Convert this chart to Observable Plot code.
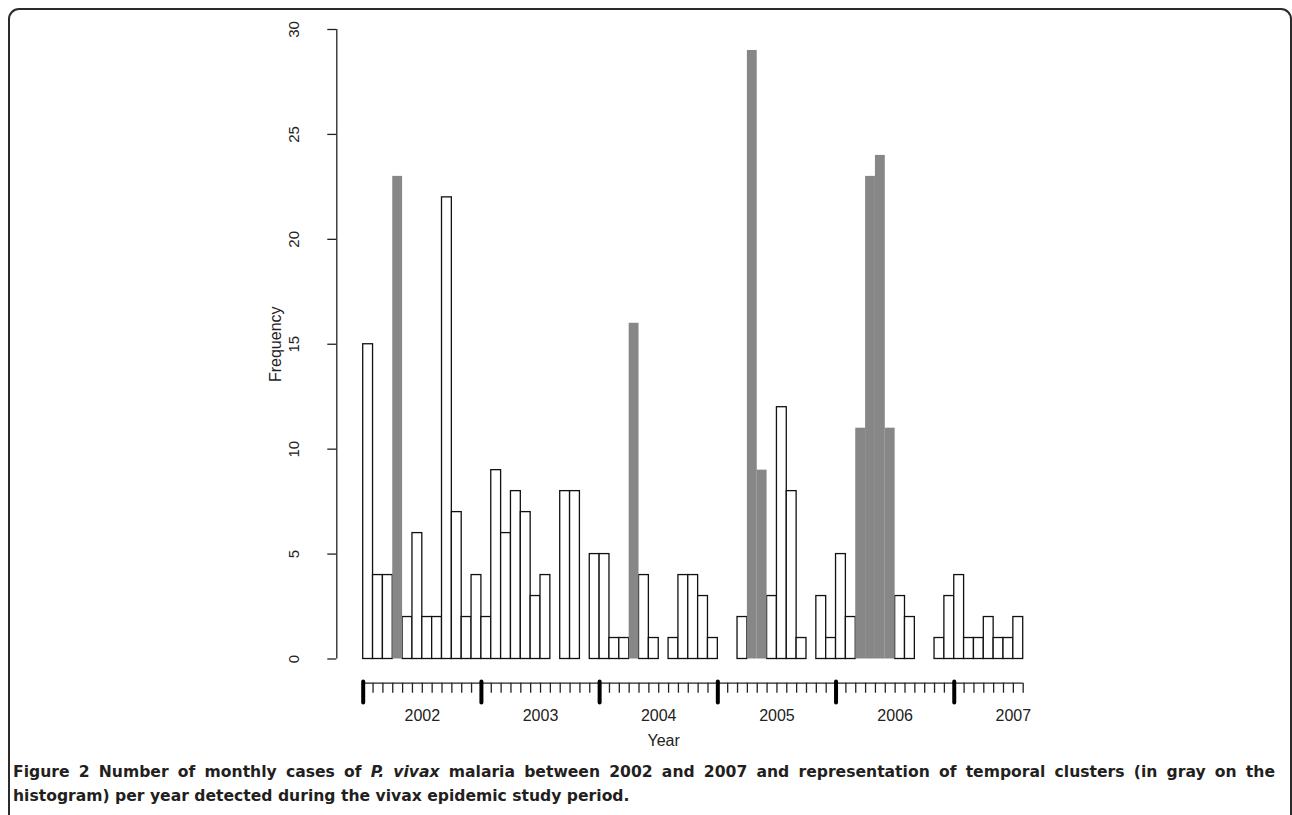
<!DOCTYPE html>
<html>
<head>
<meta charset="utf-8">
<script src="https://cdn.jsdelivr.net/npm/d3@7"></script>
<script src="https://cdn.jsdelivr.net/npm/@observablehq/plot@0.6"></script>
<style>
  html, body { margin: 0; padding: 0; background: #fff; }
  body { width: 1292px; height: 815px; position: relative; overflow: hidden; }
  #frame { position: absolute; left: 8px; top: 8px; width: 1284px; height: 840px;
           border: 2px solid #2b2b2b; border-radius: 11px; box-sizing: border-box; }
  #chart { position: absolute; left: 0; top: 0; }
  #caption { position: absolute; left: 13px; top: 760px; width: 1262px;
             font-family: "DejaVu Sans", sans-serif; font-weight: 700; font-size: 15.6px;
             line-height: 24px; color: #231f20; white-space: nowrap; }
  #caption .l1 { text-align: justify; text-align-last: justify; }
  #caption .l2 { text-align: left; }
</style>
</head>
<body>
<div id="frame"></div>
<div id="chart"></div>
<div id="caption">
  <div class="l1">Figure 2 Number of monthly cases of <i>P. vivax</i> malaria between 2002 and 2007 and representation of temporal clusters (in gray on the</div>
  <div class="l2">histogram) per year detected during the vivax epidemic study period.</div>
</div>
<script>
// Monthly case counts (67 months)
const counts = [15, 4, 4, 23, 2, 6, 2, 2, 22, 7, 2, 4,
                2, 9, 6, 8, 7, 3, 4, 0, 8, 8, 0, 5,
                5, 1, 1, 16, 4, 1, 0, 1, 4, 4, 3, 1,
                0, 0, 2, 29, 9, 3, 12, 8, 1, 0, 3, 1,
                5, 2, 11, 23, 24, 11, 3, 2, 0, 0, 1, 3,
                4, 1, 1, 2, 1, 1, 2];
// Months belonging to detected temporal clusters (drawn in gray)
const clusterMonths = [3, 27, 39, 40, 50, 51, 52, 53];
const yearLabels = ["2002", "2003", "2004", "2005", "2006", "2007"];
const yTicks = [0, 5, 10, 15, 20, 25, 30];

const n = counts.length;
const data = counts.map((v, i) => ({i, v, cluster: clusterMonths.includes(i)}));
const monthEdges = d3.range(0, n + 1);
const yearStarts = yearLabels.map((_, k) => 12 * k).filter(m => m <= n);
const yearCenters = yearLabels.map((y, k) => ({m: 12 * k + 6, label: y}));
const pad = 0.04 * n;
const font = "Liberation Sans, Arial, Helvetica, sans-serif";

const chart = Plot.plot({
  width: 1292,
  height: 760,
  marginLeft: 336.3,
  marginRight: 242.9,
  marginTop: 29,
  marginBottom: 101.5,
  style: {fontFamily: font, fontSize: "16px", color: "#222", background: "transparent"},
  x: {domain: [-pad, n + pad], axis: null},
  y: {domain: [0, 30], axis: null},
  marks: [
    // bars
    Plot.rectY(data.filter(d => !d.cluster), {x1: d => d.i, x2: d => d.i + 1, y: "v",
      fill: "white", stroke: "#111", strokeWidth: 1.3, inset: 0}),
    Plot.rectY(data.filter(d => d.cluster), {x1: d => d.i, x2: d => d.i + 1, y: "v",
      fill: "#878787", inset: 0}),
    // y axis
    Plot.ruleX([-pad], {x: d => d, y1: 0, y2: 30, stroke: "#222", strokeWidth: 1.3}),
    Plot.axisY({ticks: yTicks, tickSize: 9, tickFormat: () => "", label: null, stroke: "#222", strokeWidth: 1.3}),
    Plot.text(yTicks, {y: d => d, text: d => String(d), frameAnchor: "left", dx: -43,
      rotate: -90, textAnchor: "middle", lineAnchor: "middle", fontSize: 15, fill: "#222"}),
    Plot.text(["Frequency"], {frameAnchor: "left", dx: -61, rotate: -90, textAnchor: "middle",
      lineAnchor: "middle", fontSize: 16, fill: "#222"}),
    // x axis (month ticks, year ticks)
    Plot.ruleY([0], {y: d => d, x1: 0, x2: n, dy: 24.2, stroke: "#222", strokeWidth: 1.3}),
    Plot.axisX({ticks: monthEdges, tickSize: 10, tickFormat: () => "", label: null, dy: 24.2,
      stroke: "#222", strokeWidth: 1.3}),
    Plot.axisX({ticks: yearStarts, tickSize: 21, tickFormat: () => "", label: null, dy: 23,
      stroke: "#000", strokeWidth: 4, strokeLinecap: "round"}),
    Plot.text(yearCenters, {x: "m", text: "label", frameAnchor: "bottom", dy: 56.5,
      lineAnchor: "middle", fontSize: 16, fill: "#222"}),
    Plot.text(["Year"], {x: () => (n + 2 * pad) / 2 - pad - 3.0, frameAnchor: "bottom", dy: 81.5,
      lineAnchor: "middle", fontSize: 16, fill: "#222"})
  ]
});
document.getElementById("chart").appendChild(chart);
</script>
</body>
</html>
